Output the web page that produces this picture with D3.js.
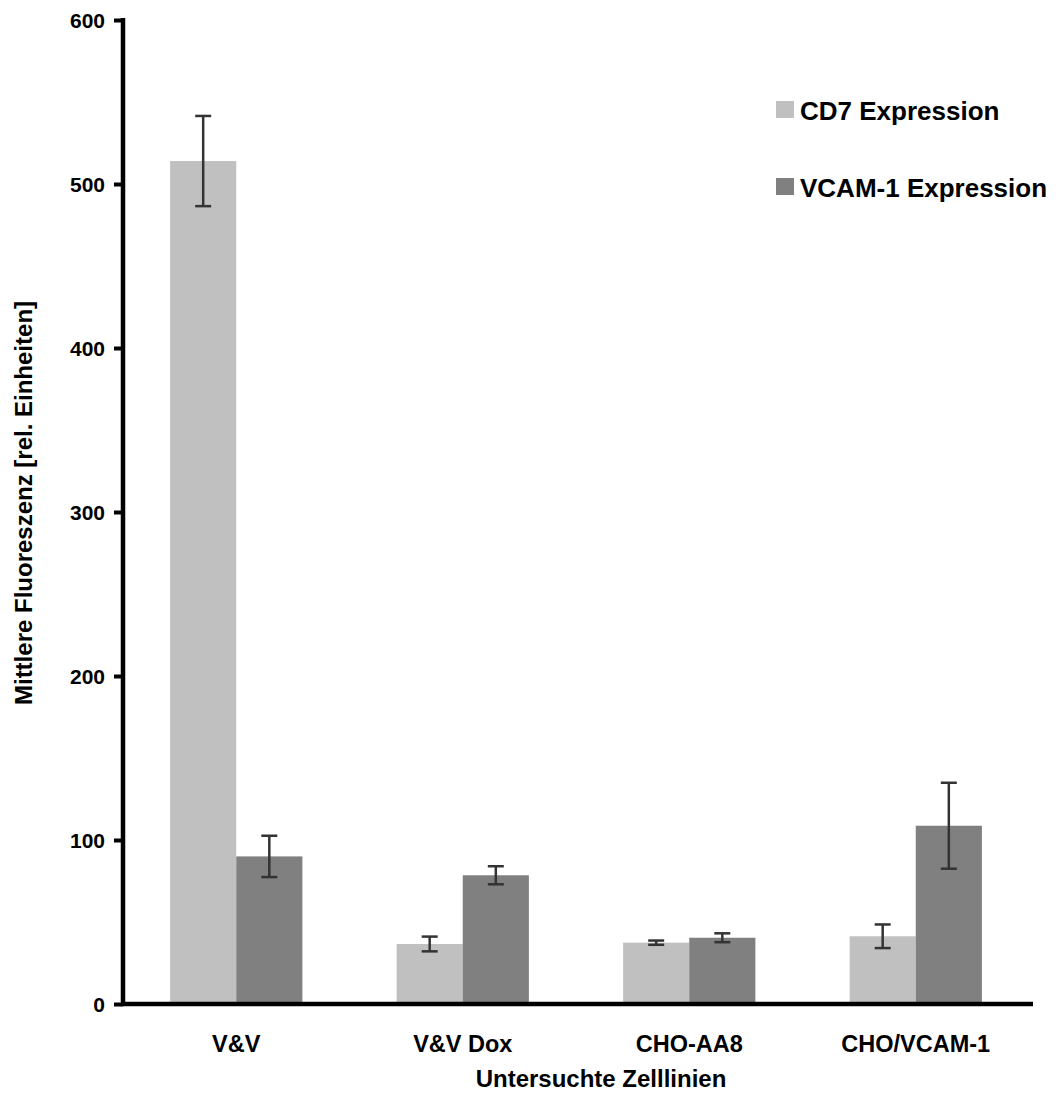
<!DOCTYPE html>
<html>
<head>
<meta charset="utf-8">
<script src="https://cdn.jsdelivr.net/npm/d3@7"></script>
<style>
  body { margin: 0; background: #fff; }
  text { font-family: "Liberation Sans", Arial, sans-serif; font-weight: bold; fill: #000; }
</style>
</head>
<body>
<div id="chart"></div>
<script>
var cellLines = ['V&V', 'V&V Dox', 'CHO-AA8', 'CHO/VCAM-1'];
var seriesNames = ['CD7 Expression', 'VCAM-1 Expression'];
var cd7Values = [514, 36.6, 37.4, 41.3];
var cd7Errors = [27.5, 4.5, 1.3, 7.2];
var vcamValues = [90, 78.5, 40.4, 108.7];
var vcamErrors = [12.6, 5.5, 2.7, 26.2];
var yTicks = [0, 100, 200, 300, 400, 500, 600];

var colors = ['#c0c0c0', '#808080'];

var width = 1059, height = 1095;

var svg = d3.select('#chart')
    .append('svg')
    .attr('width', width)
    .attr('height', height);

// scales
var xScale = d3.scaleBand()
    .domain(cellLines)
    .range([123, 1029])
    .paddingInner(0.416)
    .paddingOuter(0.208);

var xInner = d3.scaleBand()
    .domain(seriesNames)
    .range([0, xScale.bandwidth()]);

var yScale = d3.scaleLinear()
    .domain([0, 600])
    .range([1004, 20]);

var rows = [];
cellLines.forEach(function(c, i) {
    rows.push({cat: c, series: seriesNames[0], value: cd7Values[i], err: cd7Errors[i], color: colors[0]});
    rows.push({cat: c, series: seriesNames[1], value: vcamValues[i], err: vcamErrors[i], color: colors[1]});
});

// bars
svg.selectAll('.bar')
    .data(rows)
    .enter()
    .append('rect')
    .attr('class', 'bar')
    .attr('x', d => xScale(d.cat) + xInner(d.series))
    .attr('y', d => yScale(d.value))
    .attr('width', xInner.bandwidth())
    .attr('height', d => yScale(0) - yScale(d.value))
    .attr('fill', d => d.color);

// error bars
var errG = svg.selectAll('.err')
    .data(rows)
    .enter()
    .append('g')
    .attr('class', 'err')
    .attr('stroke', '#333')
    .attr('stroke-width', 2.5);

errG.append('line')
    .attr('x1', d => xScale(d.cat) + xInner(d.series) + xInner.bandwidth() / 2)
    .attr('x2', d => xScale(d.cat) + xInner(d.series) + xInner.bandwidth() / 2)
    .attr('y1', d => yScale(d.value + d.err))
    .attr('y2', d => yScale(d.value - d.err));

[1, -1].forEach(function(s) {
    errG.append('line')
        .attr('x1', d => xScale(d.cat) + xInner(d.series) + xInner.bandwidth() / 2 - 8)
        .attr('x2', d => xScale(d.cat) + xInner(d.series) + xInner.bandwidth() / 2 + 8)
        .attr('y1', d => yScale(d.value + s * d.err))
        .attr('y2', d => yScale(d.value + s * d.err));
});

// y axis
var yAxis = d3.axisLeft(yScale)
    .tickValues(yTicks)
    .tickSize(9);

var yG = svg.append('g')
    .attr('transform', 'translate(123,0)')
    .call(yAxis);
yG.select('.domain').attr('stroke', '#000').attr('stroke-width', 4.5).attr('d', 'M0,18V1006');
yG.selectAll('.tick line').attr('stroke', '#000').attr('stroke-width', 4);
yG.selectAll('.tick text')
    .style('font-size', '21px')
    .attr('dy', '0.36em')
    .attr('x', -18);

// x axis
var xAxis = d3.axisBottom(xScale).tickSize(0);
var xG = svg.append('g')
    .attr('transform', 'translate(0,1004)')
    .call(xAxis);
xG.select('.domain').attr('stroke', '#000').attr('stroke-width', 4.5).attr('d', 'M121,0H1033');
xG.selectAll('.tick text')
    .style('font-size', '23.5px')
    .attr('dy', 0)
    .attr('y', 48);

// axis titles
svg.append('text')
    .attr('x', 601)
    .attr('y', 1087)
    .attr('text-anchor', 'middle')
    .style('font-size', '24px')
    .text('Untersuchte Zelllinien');

svg.append('text')
    .attr('transform', 'translate(32,503) rotate(-90)')
    .attr('text-anchor', 'middle')
    .style('font-size', '24px')
    .text('Mittlere Fluoreszenz [rel. Einheiten]');

// legend
var legend = svg.selectAll('.legend')
    .data(seriesNames)
    .enter()
    .append('g')
    .attr('class', 'legend')
    .attr('transform', (d, i) => 'translate(776,' + (101 + i * 77) + ')');

legend.append('rect')
    .attr('width', 18)
    .attr('height', 17)
    .attr('fill', (d, i) => colors[i]);

legend.append('text')
    .attr('x', 24)
    .attr('y', 19)
    .style('font-size', '26px')
    .text(d => d);
</script>
</body>
</html>
